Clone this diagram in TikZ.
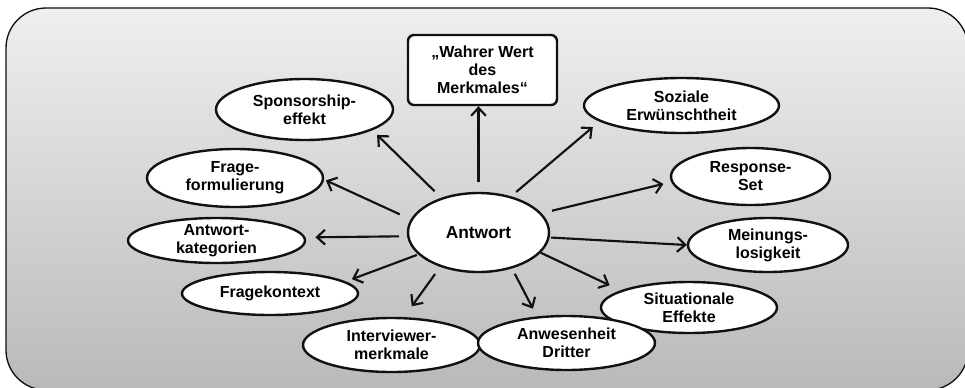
\documentclass[tikz,border=0pt]{standalone}
\usepackage{fontspec}
\setmainfont{Liberation Sans}
\usepackage{tikz}
\usepackage{xcolor}
\usetikzlibrary{arrows.meta,shapes.geometric,calc}
\definecolor{ink}{HTML}{111111}
\definecolor{bgtop}{HTML}{EFEFEF}
\definecolor{bgbottom}{HTML}{B9B9B9}

\begin{document}
\begin{tikzpicture}[x=0.75pt,y=-0.75pt,
    bubble/.style={ellipse,draw=ink,fill=white,line width=1.8pt,inner xsep=0pt,inner ysep=-4pt,
      align=center,font=\bfseries\fontsize{12}{13.5}\selectfont},
    arr/.style={draw=ink,line width=1.6pt,-{Straight Barb[length=6pt,width=11pt]}}]
  \useasboundingbox (0,0) rectangle (965,387);
  % background panel
  \shade[top color=bgtop,bottom color=bgbottom,draw=ink,line width=1pt,rounded corners=30pt]
    (6,8) rectangle (968,390);

  \node[bubble,minimum width=105.75pt,minimum height=59.25pt,font=\bfseries\fontsize{13}{15}\selectfont]
    (antwort) at (478.5,232.5) {Antwort};
  \node[draw=ink,fill=white,line width=1.8pt,rounded corners=4.5pt,minimum width=111.75pt,minimum height=52.5pt,
    align=center,font=\bfseries\fontsize{12}{13.5}\selectfont] (wahr) at (482.5,70) {„Wahrer Wert\\des\\Merkmales“};

  \node[bubble,minimum width=132.75pt,minimum height=45.75pt] (spons) at (304.5,109.5) {Sponsorship-\\effekt};
  \node[bubble,minimum width=132pt,minimum height=43.5pt] (frage) at (235,178) {Frage-\\formulierung};
  \node[bubble,minimum width=132.75pt,minimum height=33.75pt] (kat) at (216.5,240.5) {Antwort-\\kategorien};
  \node[bubble,minimum width=132pt,minimum height=32.25pt] (kontext) at (270,293.5) {Fragekontext};
  \node[bubble,minimum width=132.75pt,minimum height=40.5pt] (interv) at (391.5,345) {Interviewer-\\merkmale};
  \node[bubble,minimum width=132pt,minimum height=38.25pt] (situ) at (689,307.5) {Situationale\\Effekte};
  \node[bubble,minimum width=132.75pt,minimum height=40.5pt] (anwes) at (566.5,343) {Anwesenheit\\Dritter};
  \node[bubble,minimum width=120pt,minimum height=40.5pt] (mein) at (768,245) {Meinungs-\\losigkeit};
  \node[bubble,minimum width=119.25pt,minimum height=42.75pt] (resp) at (750.5,176.5) {Response-\\Set};
  \node[bubble,minimum width=146.25pt,minimum height=41.25pt] (sozial) at (681.5,105.5) {Soziale\\Erwünschtheit};

  % arrows out of the centre
  \draw[arr,shorten <=7pt] (antwort.north) -- (antwort.north |- wahr.south);
  \foreach \from/\to/\sa/\sb in {137/spons.-17/7/5, 169/frage.-1/9/1.5, 183/kat.2/6/7.5,
      200/kontext.9/1/5, 222/interv.66/6.6/10, -47/anwes.138/4.5/6.5, -18/situ.166/0/9,
      -4/mein.west/1/0, 17.5/resp.184/8/6, 48/sozial.191/5/6.5}
    \draw[arr,shorten <=\sa pt,shorten >=\sb pt] (antwort.\from) -- (\to);
\end{tikzpicture}
\end{document}
